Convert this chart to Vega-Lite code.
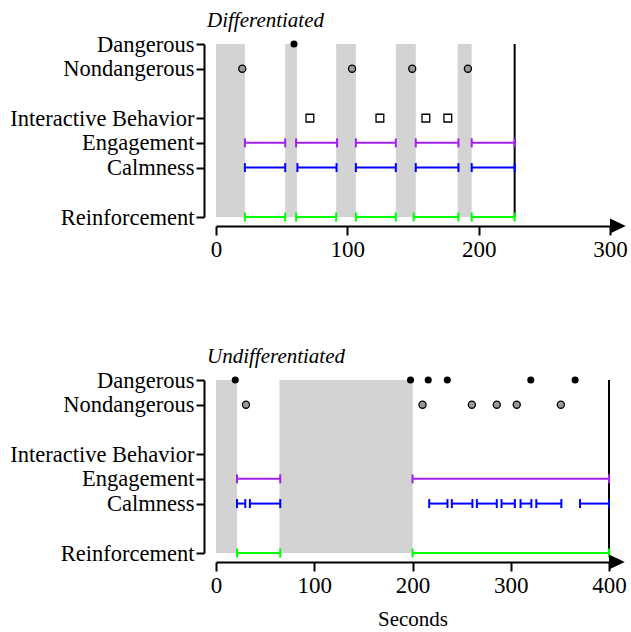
{
  "$schema": "https://vega.github.io/schema/vega-lite/v6.json",
  "padding": {"left": 9, "top": 10, "right": 0, "bottom": 0},
  "spacing": 85,
  "config": {
    "view": {"stroke": null},
    "font": "Liberation Serif",
    "axis": {"labelColor": "black", "domainColor": "black", "tickColor": "black", "titleColor": "black", "labelFont": "Liberation Serif", "titleFont": "Liberation Serif", "labelLimit": 400},
    "title": {"font": "Liberation Serif", "fontSize": 21, "fontStyle": "italic", "fontWeight": "normal", "color": "black", "anchor": "start", "frame": "group", "dx": -9, "offset": 2}
  },
  "datasets": {
    "bands": [
      {"panel": "Differentiated", "start": 0, "end": 22},
      {"panel": "Differentiated", "start": 52.7, "end": 61.6},
      {"panel": "Differentiated", "start": 91.5, "end": 106.5},
      {"panel": "Differentiated", "start": 136.9, "end": 152.1},
      {"panel": "Differentiated", "start": 184, "end": 194.7},
      {"panel": "Undifferentiated", "start": 0, "end": 21.4},
      {"panel": "Undifferentiated", "start": 64.6, "end": 200.2}
    ],
    "sessions": [
      {"panel": "Differentiated", "end": 227.4},
      {"panel": "Undifferentiated", "end": 400}
    ],
    "events": [
      {"panel": "Differentiated", "behavior": "Dangerous", "time": 59.4},
      {"panel": "Differentiated", "behavior": "Nondangerous", "time": 20},
      {"panel": "Differentiated", "behavior": "Nondangerous", "time": 103.6},
      {"panel": "Differentiated", "behavior": "Nondangerous", "time": 149.4},
      {"panel": "Differentiated", "behavior": "Nondangerous", "time": 191.8},
      {"panel": "Differentiated", "behavior": "Interactive Behavior", "time": 71.5},
      {"panel": "Differentiated", "behavior": "Interactive Behavior", "time": 124.8},
      {"panel": "Differentiated", "behavior": "Interactive Behavior", "time": 159.8},
      {"panel": "Differentiated", "behavior": "Interactive Behavior", "time": 176.5},
      {"panel": "Undifferentiated", "behavior": "Dangerous", "time": 19.6},
      {"panel": "Undifferentiated", "behavior": "Dangerous", "time": 198},
      {"panel": "Undifferentiated", "behavior": "Dangerous", "time": 216},
      {"panel": "Undifferentiated", "behavior": "Dangerous", "time": 235.4},
      {"panel": "Undifferentiated", "behavior": "Dangerous", "time": 320.4},
      {"panel": "Undifferentiated", "behavior": "Dangerous", "time": 365.5},
      {"panel": "Undifferentiated", "behavior": "Nondangerous", "time": 30.5},
      {"panel": "Undifferentiated", "behavior": "Nondangerous", "time": 210.2},
      {"panel": "Undifferentiated", "behavior": "Nondangerous", "time": 260.4},
      {"panel": "Undifferentiated", "behavior": "Nondangerous", "time": 285.8},
      {"panel": "Undifferentiated", "behavior": "Nondangerous", "time": 306.1},
      {"panel": "Undifferentiated", "behavior": "Nondangerous", "time": 351}
    ],
    "segments": [
      {"panel": "Differentiated", "behavior": "Engagement", "start": 22, "end": 52.7},
      {"panel": "Differentiated", "behavior": "Engagement", "start": 61, "end": 92.2},
      {"panel": "Differentiated", "behavior": "Engagement", "start": 106.5, "end": 136.9},
      {"panel": "Differentiated", "behavior": "Engagement", "start": 152.1, "end": 184.6},
      {"panel": "Differentiated", "behavior": "Engagement", "start": 194.7, "end": 227.4},
      {"panel": "Differentiated", "behavior": "Calmness", "start": 22, "end": 52.7},
      {"panel": "Differentiated", "behavior": "Calmness", "start": 62, "end": 91.8},
      {"panel": "Differentiated", "behavior": "Calmness", "start": 106.5, "end": 136.9},
      {"panel": "Differentiated", "behavior": "Calmness", "start": 152.1, "end": 184.6},
      {"panel": "Differentiated", "behavior": "Calmness", "start": 194.7, "end": 227.4},
      {"panel": "Differentiated", "behavior": "Reinforcement", "start": 22, "end": 52.7},
      {"panel": "Differentiated", "behavior": "Reinforcement", "start": 61, "end": 91.5},
      {"panel": "Differentiated", "behavior": "Reinforcement", "start": 106.5, "end": 136.9},
      {"panel": "Differentiated", "behavior": "Reinforcement", "start": 150.5, "end": 184.6},
      {"panel": "Differentiated", "behavior": "Reinforcement", "start": 194.7, "end": 227.4},
      {"panel": "Undifferentiated", "behavior": "Engagement", "start": 21.4, "end": 65.4},
      {"panel": "Undifferentiated", "behavior": "Engagement", "start": 200, "end": 400},
      {"panel": "Undifferentiated", "behavior": "Calmness", "start": 21.4, "end": 29.8},
      {"panel": "Undifferentiated", "behavior": "Calmness", "start": 34.5, "end": 65.4},
      {"panel": "Undifferentiated", "behavior": "Calmness", "start": 217, "end": 235.6},
      {"panel": "Undifferentiated", "behavior": "Calmness", "start": 240, "end": 261},
      {"panel": "Undifferentiated", "behavior": "Calmness", "start": 265.5, "end": 285.8},
      {"panel": "Undifferentiated", "behavior": "Calmness", "start": 290.6, "end": 304.2},
      {"panel": "Undifferentiated", "behavior": "Calmness", "start": 310, "end": 321},
      {"panel": "Undifferentiated", "behavior": "Calmness", "start": 326, "end": 351.5},
      {"panel": "Undifferentiated", "behavior": "Calmness", "start": 370.5, "end": 400},
      {"panel": "Undifferentiated", "behavior": "Reinforcement", "start": 21.4, "end": 65.4},
      {"panel": "Undifferentiated", "behavior": "Reinforcement", "start": 200, "end": 400}
    ]
  },
  "vconcat": [
    {
      "title": "Differentiated",
      "width": 394,
      "height": 173,
      "layer": [
        {
          "data": {"name": "bands"},
          "transform": [{"filter": "datum.panel == 'Differentiated'"}],
          "mark": {"type": "rect", "color": "#D3D3D3"},
          "encoding": {
            "x": {"field": "start", "type": "quantitative", "scale": {"domain": [0, 300], "nice": false, "zero": false},
              "axis": {"values": [0, 100, 200, 300], "title": null, "offset": 9, "grid": false, "domainWidth": 2, "tickWidth": 2, "tickSize": 9, "labelFont": "Liberation Serif", "labelFontSize": 23, "labelPadding": 3, "labelFlush": false}},
            "x2": {"field": "end"},
            "y": {"datum": "Dangerous", "type": "nominal",
              "scale": {"type": "point", "padding": 0, "domain": ["Dangerous", "Nondangerous", "_gap1", "Interactive Behavior", "Engagement", "Calmness", "_gap2", "Reinforcement"]},
              "axis": {"values": ["Dangerous", "Nondangerous", "Interactive Behavior", "Engagement", "Calmness", "Reinforcement"], "title": null, "offset": 12, "domainWidth": 2, "tickWidth": 2, "tickSize": 8, "labelFont": "Liberation Serif", "labelFontSize": 22.5, "labelPadding": 2}},
            "y2": {"datum": "Reinforcement"}
          }
        },
        {
          "data": {"name": "sessions"},
          "transform": [{"filter": "datum.panel == 'Differentiated'"}],
          "mark": {"type": "rule", "color": "black", "strokeWidth": 2},
          "encoding": {
            "x": {"field": "end", "type": "quantitative"},
            "y": {"datum": "Dangerous", "type": "nominal"},
            "y2": {"datum": "Reinforcement"}
          }
        },
        {
          "data": {"name": "segments"},
          "transform": [{"filter": "datum.panel == 'Differentiated'"}],
          "layer": [
            {"mark": {"type": "rule", "strokeWidth": 2}, "encoding": {"x": {"field": "start", "type": "quantitative"}, "x2": {"field": "end"}}},
            {"mark": {"type": "tick", "thickness": 2, "size": 9, "opacity": 1}, "encoding": {"x": {"field": "start", "type": "quantitative"}}},
            {"mark": {"type": "tick", "thickness": 2, "size": 9, "opacity": 1}, "encoding": {"x": {"field": "end", "type": "quantitative"}}}
          ],
          "encoding": {
            "y": {"field": "behavior", "type": "nominal"},
            "color": {"field": "behavior", "type": "nominal", "legend": null,
              "scale": {"domain": ["Engagement", "Calmness", "Reinforcement"], "range": ["#A020F0", "#0000FF", "#00FF00"]}}
          }
        },
        {
          "data": {"name": "events"},
          "transform": [{"filter": "datum.panel == 'Differentiated' && datum.behavior == 'Dangerous'"}],
          "mark": {"type": "point", "shape": "circle", "filled": true, "color": "black", "size": 50, "opacity": 1},
          "encoding": {"x": {"field": "time", "type": "quantitative"}, "y": {"field": "behavior", "type": "nominal"}}
        },
        {
          "data": {"name": "events"},
          "transform": [{"filter": "datum.panel == 'Differentiated' && datum.behavior == 'Nondangerous'"}],
          "mark": {"type": "point", "shape": "circle", "filled": true, "fill": "#999999", "stroke": "black", "strokeWidth": 1.3, "size": 50, "opacity": 1},
          "encoding": {"x": {"field": "time", "type": "quantitative"}, "y": {"field": "behavior", "type": "nominal"}}
        },
        {
          "data": {"name": "events"},
          "transform": [{"filter": "datum.panel == 'Differentiated' && datum.behavior == 'Interactive Behavior'"}],
          "mark": {"type": "point", "shape": "square", "filled": true, "fill": "white", "stroke": "black", "strokeWidth": 1.3, "size": 60, "opacity": 1},
          "encoding": {"x": {"field": "time", "type": "quantitative"}, "y": {"field": "behavior", "type": "nominal"}}
        },
        {
          "data": {"values": [{}]},
          "mark": {"type": "point", "shape": "M0,-1L2.1,0L0,1Z", "filled": true, "color": "black", "size": 225, "opacity": 1, "yOffset": 9},
          "encoding": {"x": {"datum": 300, "type": "quantitative"}, "y": {"datum": "Reinforcement", "type": "nominal"}}
        }
      ]
    },
    {
      "title": "Undifferentiated",
      "width": 393,
      "height": 173,
      "layer": [
        {
          "data": {"name": "bands"},
          "transform": [{"filter": "datum.panel == 'Undifferentiated'"}],
          "mark": {"type": "rect", "color": "#D3D3D3"},
          "encoding": {
            "x": {"field": "start", "type": "quantitative", "scale": {"domain": [0, 400], "nice": false, "zero": false},
              "axis": {"values": [0, 100, 200, 300, 400], "title": "Seconds", "titleFontSize": 21, "titleFontWeight": "normal", "titleFont": "Liberation Serif", "titlePadding": 11, "offset": 9, "grid": false, "domainWidth": 2, "tickWidth": 2, "tickSize": 9, "labelFont": "Liberation Serif", "labelFontSize": 23, "labelPadding": 3, "labelFlush": false}},
            "x2": {"field": "end"},
            "y": {"datum": "Dangerous", "type": "nominal",
              "scale": {"type": "point", "padding": 0, "domain": ["Dangerous", "Nondangerous", "_gap1", "Interactive Behavior", "Engagement", "Calmness", "_gap2", "Reinforcement"]},
              "axis": {"values": ["Dangerous", "Nondangerous", "Interactive Behavior", "Engagement", "Calmness", "Reinforcement"], "title": null, "offset": 12, "domainWidth": 2, "tickWidth": 2, "tickSize": 8, "labelFont": "Liberation Serif", "labelFontSize": 22.5, "labelPadding": 2}},
            "y2": {"datum": "Reinforcement"}
          }
        },
        {
          "data": {"name": "sessions"},
          "transform": [{"filter": "datum.panel == 'Undifferentiated'"}],
          "mark": {"type": "rule", "color": "black", "strokeWidth": 2},
          "encoding": {
            "x": {"field": "end", "type": "quantitative"},
            "y": {"datum": "Dangerous", "type": "nominal"},
            "y2": {"datum": "Reinforcement"}
          }
        },
        {
          "data": {"name": "segments"},
          "transform": [{"filter": "datum.panel == 'Undifferentiated'"}],
          "layer": [
            {"mark": {"type": "rule", "strokeWidth": 2}, "encoding": {"x": {"field": "start", "type": "quantitative"}, "x2": {"field": "end"}}},
            {"mark": {"type": "tick", "thickness": 2, "size": 9, "opacity": 1}, "encoding": {"x": {"field": "start", "type": "quantitative"}}},
            {"mark": {"type": "tick", "thickness": 2, "size": 9, "opacity": 1}, "encoding": {"x": {"field": "end", "type": "quantitative"}}}
          ],
          "encoding": {
            "y": {"field": "behavior", "type": "nominal"},
            "color": {"field": "behavior", "type": "nominal", "legend": null,
              "scale": {"domain": ["Engagement", "Calmness", "Reinforcement"], "range": ["#A020F0", "#0000FF", "#00FF00"]}}
          }
        },
        {
          "data": {"name": "events"},
          "transform": [{"filter": "datum.panel == 'Undifferentiated' && datum.behavior == 'Dangerous'"}],
          "mark": {"type": "point", "shape": "circle", "filled": true, "color": "black", "size": 50, "opacity": 1},
          "encoding": {"x": {"field": "time", "type": "quantitative"}, "y": {"field": "behavior", "type": "nominal"}}
        },
        {
          "data": {"name": "events"},
          "transform": [{"filter": "datum.panel == 'Undifferentiated' && datum.behavior == 'Nondangerous'"}],
          "mark": {"type": "point", "shape": "circle", "filled": true, "fill": "#999999", "stroke": "black", "strokeWidth": 1.3, "size": 50, "opacity": 1},
          "encoding": {"x": {"field": "time", "type": "quantitative"}, "y": {"field": "behavior", "type": "nominal"}}
        },
        {
          "data": {"values": [{}]},
          "mark": {"type": "point", "shape": "M0,-1L2.1,0L0,1Z", "filled": true, "color": "black", "size": 225, "opacity": 1, "yOffset": 9},
          "encoding": {"x": {"datum": 400, "type": "quantitative"}, "y": {"datum": "Reinforcement", "type": "nominal"}}
        }
      ]
    }
  ]
}
